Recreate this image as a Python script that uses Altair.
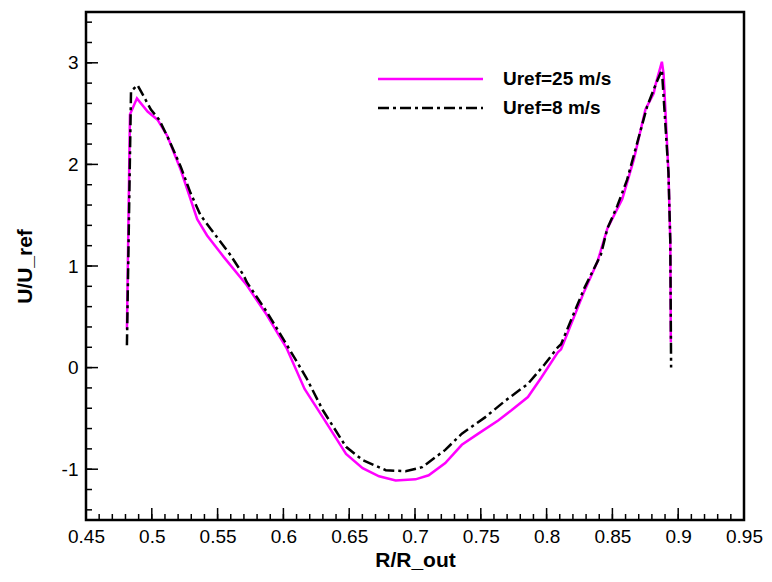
import altair as alt
import pandas as pd

# Uref = 25 m/s (magenta, solid)
x25 = [0.4811, 0.4834, 0.4887, 0.4968, 0.5043, 0.5118, 0.5219, 0.5345, 0.5420, 0.5546,
       0.5722, 0.5873, 0.6023, 0.6161, 0.6300, 0.6476, 0.6602, 0.6727, 0.6853, 0.7004,
       0.7104, 0.7230, 0.7356, 0.7481, 0.7632, 0.7733, 0.7858, 0.7959, 0.8085, 0.8110,
       0.8286, 0.8386, 0.8462, 0.8575, 0.8663, 0.8751, 0.8814, 0.8827, 0.8876, 0.8889,
       0.8926, 0.8940, 0.8944]
y25 = [0.38, 2.49, 2.65, 2.52, 2.44, 2.28, 1.95, 1.46, 1.30, 1.09,
       0.81, 0.52, 0.195, -0.21, -0.49, -0.85, -0.99, -1.07, -1.11, -1.10,
       -1.06, -0.94, -0.76, -0.65, -0.52, -0.42, -0.29, -0.10, 0.15, 0.18,
       0.75, 1.04, 1.37, 1.66, 2.05, 2.54, 2.70, 2.78, 3.01, 2.89,
       1.92, 1.24, 0.25]

# Uref = 8 m/s (black, dash-dot)
x8 = [0.4811, 0.4842, 0.4892, 0.4993, 0.5056, 0.5131, 0.5219, 0.5294, 0.5370, 0.5445,
      0.5596, 0.5697, 0.5722, 0.5873, 0.6023, 0.6174, 0.6300, 0.6476, 0.6602, 0.6778,
      0.6928, 0.7054, 0.7230, 0.7356, 0.7532, 0.7682, 0.7858, 0.7984, 0.8085, 0.8110,
      0.8286, 0.8412, 0.8462, 0.8537, 0.8612, 0.8688, 0.8764, 0.8827, 0.8876, 0.8926,
      0.8940, 0.8946]
y8 = [0.22, 2.72, 2.78, 2.54, 2.44, 2.24, 1.98, 1.72, 1.50, 1.37,
      1.11, 0.91, 0.84, 0.55, 0.23, -0.10, -0.42, -0.78, -0.91, -1.01,
      -1.02, -0.98, -0.81, -0.65, -0.49, -0.33, -0.16, 0.03, 0.20, 0.23,
      0.78, 1.11, 1.37, 1.59, 1.85, 2.21, 2.57, 2.78, 2.93, 1.92,
      1.24, 0.00]

x_major = [0.45, 0.5, 0.55, 0.6, 0.65, 0.7, 0.75, 0.8, 0.85, 0.9, 0.95]
y_major = [-1, 0, 1, 2, 3]
x_minor = [round(0.45 + 0.01 * i, 2) for i in range(51)]
y_minor = [round(-1.4 + 0.2 * i, 1) for i in range(25)]

W, H = 658, 508
FONT = "Liberation Sans"

xs = alt.Scale(domain=[0.45, 0.95], nice=False, zero=False)
ys = alt.Scale(domain=[-1.5, 3.5], nice=False, zero=False)

df25 = pd.DataFrame({"r": x25, "u": y25, "i": range(len(x25))})
df8 = pd.DataFrame({"r": x8, "u": y8, "i": range(len(x8))})

line25 = alt.Chart(df25).mark_line(color="#ff00ff", strokeWidth=2.5).encode(
    x=alt.X("r:Q", scale=xs, title="R/R_out",
            axis=alt.Axis(values=x_major, ticks=False, domain=False, grid=False,
                          labelFontSize=19, labelFont=FONT, labelPadding=7,
                          labelColor="black", titleFontSize=21, titleFont=FONT,
                          titleFontWeight="bold", titleColor="black", titlePadding=3,
                          labelFlush=False, labelExpr="format(datum.value, '.2~f')")),
    y=alt.Y("u:Q", scale=ys, title="U/U_ref",
            axis=alt.Axis(values=y_major, ticks=False, domain=False, grid=False,
                          labelFontSize=19, labelFont=FONT, labelPadding=8,
                          labelColor="black", titleFontSize=21, titleFont=FONT,
                          titleFontWeight="bold", titleColor="black", titlePadding=26,
                          labelFlush=False, labelExpr="'' + datum.value")),
    order="i:Q",
)

line8 = alt.Chart(df8).mark_line(color="black", strokeWidth=2.5,
                                 strokeDash=[11, 4, 3, 4]).encode(
    x=alt.X("r:Q", scale=xs),
    y=alt.Y("u:Q", scale=ys),
    order="i:Q",
)

def xticks(vals, length):
    return alt.Chart(pd.DataFrame({"v": vals})).mark_rule(color="black", strokeWidth=1.5).encode(
        x=alt.X("v:Q", scale=xs),
        y=alt.value(H), y2=alt.value(H - length))

def yticks(vals, length):
    return alt.Chart(pd.DataFrame({"v": vals})).mark_rule(color="black", strokeWidth=1.5).encode(
        y=alt.Y("v:Q", scale=ys),
        x=alt.value(0), x2=alt.value(length))

legend_lines = [
    alt.Chart(pd.DataFrame({"a": [0]})).mark_rule(color="#ff00ff", strokeWidth=2.5).encode(
        x=alt.value(292), x2=alt.value(397), y=alt.value(67)),
    alt.Chart(pd.DataFrame({"a": [0]})).mark_rule(color="black", strokeWidth=2.5,
                                                  strokeDash=[11, 4, 3, 4]).encode(
        x=alt.value(292), x2=alt.value(397), y=alt.value(96)),
]
legend_text = alt.Chart(pd.DataFrame({"t": ["Uref=25 m/s", "Uref=8 m/s"],
                                      "yy": [67, 96]})).mark_text(
    align="left", baseline="middle", fontSize=19, font=FONT, fontWeight="bold",
    color="black").encode(
    x=alt.value(417), y=alt.Y("yy:Q", scale=None), text="t:N")

chart = alt.layer(
    line25, line8,
    xticks(x_minor, 6), xticks(x_major, 12),
    yticks(y_minor, 6), yticks(y_major, 12),
    *legend_lines, legend_text,
).properties(
    width=W, height=H,
    background="white",
    autosize=alt.AutoSizeParams(type="none"),
    padding={"left": 78, "top": 4, "right": 20, "bottom": 54},
).configure_view(
    stroke="black", strokeWidth=2.5
)

chart.save("out.html", embed_options={"renderer": "svg", "actions": False})
